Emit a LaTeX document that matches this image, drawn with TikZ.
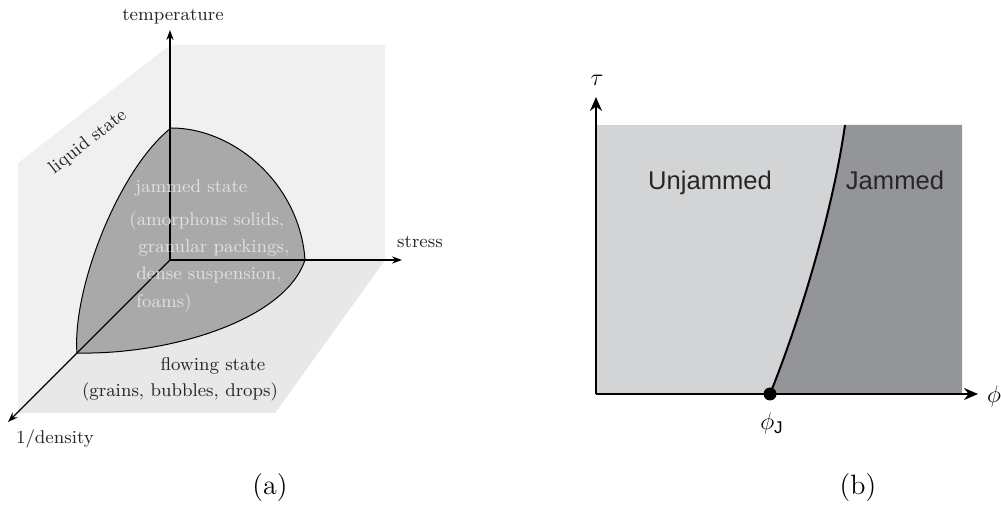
\documentclass[tikz,border=0pt]{standalone}
\usepackage{fontspec}
\newfontfamily\helv{Liberation Sans}
\usetikzlibrary{arrows.meta}

\definecolor{wallgray}{HTML}{F0F0F0}
\definecolor{floorgray}{HTML}{E8E8E8}
\definecolor{jamgray}{HTML}{A9A9A9}
\definecolor{unjamfill}{HTML}{D3D4D6}
\definecolor{jamfill}{HTML}{939598}

\begin{document}
\begin{tikzpicture}[x=0.5pt,y=-0.5pt,
   axis/.style={-{Stealth[length=5pt,width=3.6pt]},line width=0.6pt},
   baxis/.style={-{Stealth[length=7pt,width=6pt]},line width=1pt},
   lbl/.style={font=\fontsize{9.2}{11}\selectfont,text=black!85},
   jamtxt/.style={font=\fontsize{9.2}{11}\selectfont,text=white!88!black,anchor=west,inner sep=0pt},
   sanslbl/.style={font=\helv\fontsize{12.8}{15}\selectfont,text=black!85,anchor=base},
   mathlbl/.style={font=\fontsize{13}{15}\selectfont},
   caption/.style={font=\fontsize{14}{16}\selectfont},
   dot/.style={circle,fill=black,inner sep=0pt,minimum size=6.5pt}]

   \useasboundingbox (0,0) rectangle (1001,506);

   \coordinate (O) at (170,260);
   \coordinate (Ttip) at (170,30);
   \coordinate (Stip) at (402,260);
   \coordinate (Dtip) at (8,422);

   \coordinate (jT) at (171,128);
   \coordinate (jS) at (305,260);
   \coordinate (jD) at (77,353);

   \fill [wallgray] (170,45) -- (385,45) -- (385,260) -- (275,413) -- (18,413) -- (18,163) -- cycle;
   \fill [floorgray] (O) -- (385,260) -- (275,413) -- (18,413) -- (18,412) -- cycle;

   \filldraw [fill=jamgray, line width=0.5pt] (jT) .. controls (235,128) and (300,185) .. (jS)
      .. controls (285,320) and (170,355) .. (jD) .. controls (72,290) and (118,170) .. (jT);

   \draw [axis] (O) -- (Ttip);
   \draw [axis] (O) -- (Stip);
   \draw [axis] (O) -- (Dtip);

   \node (temp) at (173,17) [lbl] {temperature};
   \node (stress) at (420,242) [lbl] {stress};
   \node (dens) at (55,439) [lbl] {1/density};
   \node (liquid) at (88,142) [lbl,rotate=38] {liquid state};
   \node (flow) at (213,366) [lbl] {flowing state};
   \node (grains) at (180,392) [lbl] {(grains, bubbles, drops)};

   \node (jam) at (135,188) [jamtxt] {jammed state};
   \node (amorph) at (129,221) [jamtxt] {(amorphous solids,};
   \node (granular) at (138,248) [jamtxt] {granular packings,};
   \node (dense) at (136,275) [jamtxt] {dense suspension,};
   \node (foams) at (136,303) [jamtxt] {foams)};

   \coordinate (bO) at (596,394);
   \coordinate (tauTip) at (596,97);
   \coordinate (phiTip) at (978,394);
   \coordinate (jPt) at (770,394);
   \coordinate (cTop) at (845,125);

   \fill [unjamfill] (597,125) rectangle (962,394);
   \fill [jamfill] (jPt) .. controls (800,320) and (833,210) .. (cTop) -- (962,125) -- (962,394) -- cycle;
   \draw [line width=1pt] (jPt) .. controls (800,320) and (833,210) .. (cTop);

   \draw [baxis] (bO) -- (tauTip);
   \draw [baxis] (bO) -- (phiTip);
   \node (jDot) at (jPt) [dot] {};

   \node (unj) at (710,190) [sanslbl] {Unjammed};
   \node (jmd) at (895,190) [sanslbl] {Jammed};
   \node (tau) at (597,80) [mathlbl] {$\tau$};
   \node (phi) at (994,397) [mathlbl] {$\phi$};
   \node (phiJ) at (772,424) [mathlbl] {$\phi_{\hbox{\helv\fontsize{8.5}{10}\selectfont J}}$};

   \node (capA) at (270,488) [caption] {(a)};
   \node (capB) at (858,488) [caption] {(b)};

\end{tikzpicture}
\end{document}
